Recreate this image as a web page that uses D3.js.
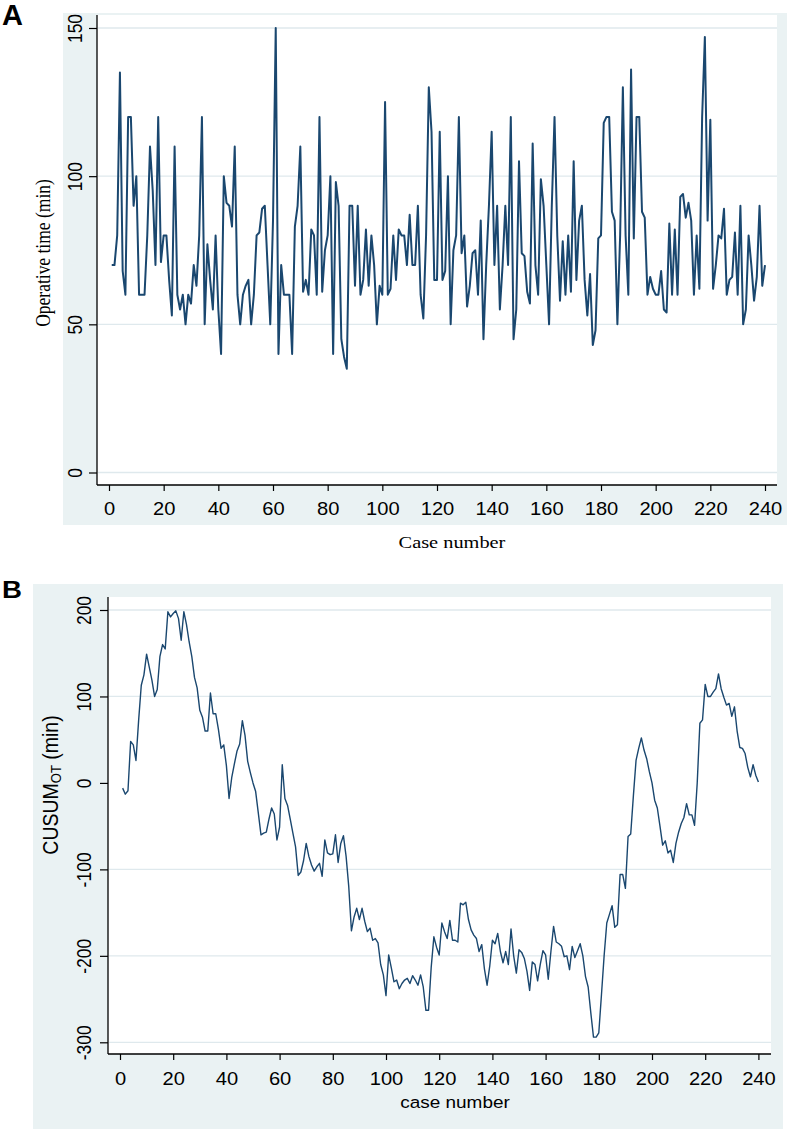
<!DOCTYPE html>
<html>
<head>
<meta charset="utf-8">
<script src="https://cdn.jsdelivr.net/npm/d3@7/dist/d3.min.js"></script>
<style>
  body { margin: 0; background: #ffffff; }
  svg { display: block; }
</style>
</head>
<body>
<div id="chart"></div>
<script>
// operative time per case (min), cases 1..240
var operative_time = [
  70, 70, 80, 135, 68, 60, 120, 120, 90, 100,
  60, 60, 60, 80, 110, 95, 70, 120, 71, 80,
  80, 65, 53, 110, 60, 55, 60, 50, 60, 57,
  70, 63, 80, 120, 50, 77, 65, 55, 80, 55,
  40, 100, 91, 90, 83, 110, 60, 50, 60, 63,
  65, 50, 60, 80, 81, 89, 90, 70, 50, 85,
  150, 40, 70, 60, 60, 60, 40, 83, 90, 110,
  61, 65, 60, 82, 80, 60, 120, 61, 75, 80,
  100, 40, 98, 90, 45, 39, 35, 90, 90, 63,
  90, 60, 65, 82, 63, 80, 70, 50, 63, 60,
  125, 60, 62, 80, 65, 82, 80, 80, 70, 87,
  70, 70, 90, 60, 52, 80, 130, 115, 65, 65,
  115, 65, 68, 100, 50, 75, 80, 120, 74, 80,
  56, 63, 74, 75, 60, 85, 45, 70, 90, 115,
  70, 90, 55, 70, 90, 70, 120, 45, 55, 105,
  74, 73, 61, 57, 111, 70, 60, 99, 90, 70,
  50, 90, 120, 80, 58, 78, 60, 80, 61, 105,
  65, 85, 90, 65, 53, 67, 43, 48, 79, 80,
  118, 120, 120, 88, 85, 50, 80, 130, 80, 60,
  136, 79, 120, 120, 88, 86, 60, 66, 62, 60,
  60, 68, 55, 54, 84, 60, 82, 60, 93, 94,
  86, 91, 85, 60, 80, 62, 120, 147, 85, 119,
  62, 70, 80, 79, 89, 60, 65, 66, 81, 60,
  90, 50, 55, 80, 70, 58, 66, 90, 63, 70
];

// CUSUM of operative time (min), cases 1..240
var cusum_ot = [
  -6, -13, -9, 48, 44, 26, 72, 113, 125, 149,
  134, 119, 100, 108, 146, 160, 155, 198, 192, 196,
  199, 190, 165, 198, 183, 163, 146, 122, 110, 84,
  76, 60, 60, 104, 80, 80, 62, 40, 44, 20,
  -18, 6, 22, 37, 45, 72, 55, 25, 12, 0,
  -10, -35, -60, -58, -57, -42, -29, -36, -66, -51,
  21, -18, -26, -42, -58, -74, -107, -103, -90, -70,
  -85, -95, -102, -97, -93, -108, -66, -81, -83, -82,
  -60, -92, -70, -61, -85, -120, -171, -155, -145, -158,
  -145, -160, -172, -168, -182, -180, -185, -210, -222, -246,
  -199, -214, -230, -228, -238, -232, -228, -226, -232, -223,
  -228, -234, -222, -236, -263, -263, -213, -178, -190, -199,
  -162, -172, -180, -159, -182, -182, -184, -139, -141, -138,
  -158, -170, -176, -180, -195, -187, -215, -234, -212, -182,
  -186, -174, -195, -208, -195, -210, -169, -200, -220, -193,
  -196, -203, -218, -240, -207, -210, -229, -210, -194, -199,
  -227, -195, -166, -184, -186, -189, -201, -200, -216, -189,
  -202, -194, -186, -200, -224, -236, -266, -294, -294, -289,
  -245, -200, -162, -152, -142, -167, -164, -106, -106, -122,
  -62, -59, -15, 26, 40, 52, 38, 28, 13, 0,
  -20, -29, -50, -72, -67, -81, -78, -92, -70, -57,
  -47, -40, -24, -37, -37, -49, 0, 69, 73, 114,
  100, 100, 105, 109, 126, 109, 99, 90, 92, 77,
  88, 60, 41, 40, 34, 18, 7, 21, 9, 1
];

var x_ticks = [0, 20, 40, 60, 80, 100, 120, 140, 160, 180, 200, 220, 240];
var a_y_ticks = [0, 50, 100, 150];
var b_y_ticks = [-300, -200, -100, 0, 100, 200];

var width = 787, height = 1129;
var bg_color = "#eaf2f3",
    grid_color = "#dfe9ed",
    line_color = "#1a476f",
    sans = "'Liberation Sans', Arial, sans-serif",
    serif = "'Liberation Serif', 'Times New Roman', serif",
    stretch = 1.15; // the source figure is a little wider than tall

var svg = d3.select("#chart").append("svg")
  .attr("width", width)
  .attr("height", height);

drawPanel({
  letter: "A", letter_size: 29, letter_y: 25,
  bg: {x0: 63, y0: 13, x1: 787, y1: 525},
  plot: {x0: 97, y0: 15, x1: 777, y1: 485},
  x_range: [109, 765], y_domain: [0, 150], y_range: [472.5, 28],
  y_ticks: a_y_ticks, values: operative_time,
  y_label_base: -15.5, x_label_base: 30,
  line_width: 2,
  x_title: "Case number", x_title_font: serif, x_title_size: 17.7,
  x_title_x: 452, x_title_y: 548,
  y_title_font: serif, y_title_size: 17.5, y_title_x: 50, y_title_y: 253,
  skip_zero_grid: false
});

drawPanel({
  letter: "B", letter_size: 24, letter_y: 598,
  bg: {x0: 33, y0: 584, x1: 783, y1: 1129},
  plot: {x0: 108, y0: 597, x1: 771, y1: 1054},
  x_range: [120, 758.4], y_domain: [-300, 200], y_range: [1042.3, 610],
  y_ticks: b_y_ticks, values: cusum_ot,
  y_label_base: -17.3, x_label_base: 31,
  line_width: 1.4,
  x_title: "case number", x_title_font: sans, x_title_size: 16.5,
  x_title_x: 455, x_title_y: 1108,
  y_title_font: sans, y_title_size: 19.5, y_title_x: 58, y_title_y: 785,
  cusum_title: true,
  skip_zero_grid: true
});

function drawPanel(o) {
  var g = svg.append("g");

  // graph region and plot region
  g.append("rect")
    .attr("x", o.bg.x0).attr("y", o.bg.y0)
    .attr("width", o.bg.x1 - o.bg.x0).attr("height", o.bg.y1 - o.bg.y0)
    .attr("fill", bg_color);
  g.append("rect")
    .attr("x", o.plot.x0).attr("y", o.plot.y0)
    .attr("width", o.plot.x1 - o.plot.x0).attr("height", o.plot.y1 - o.plot.y0)
    .attr("fill", "#ffffff");

  var x = d3.scaleLinear().domain([0, 240]).range(o.x_range);
  var y = d3.scaleLinear().domain(o.y_domain).range(o.y_range);

  // horizontal grid
  g.append("g").selectAll("line")
    .data(o.y_ticks.filter(function(t) { return !(o.skip_zero_grid && t === 0); }))
    .enter().append("line")
    .attr("x1", o.plot.x0 + 1).attr("x2", o.plot.x1)
    .attr("y1", function(d) { return y(d); })
    .attr("y2", function(d) { return y(d); })
    .attr("stroke", grid_color)
    .attr("stroke-width", 1.3);

  // the series
  var line = d3.line()
    .x(function(d, i) { return x(i + 1); })
    .y(function(d) { return y(d); });

  g.append("path")
    .datum(o.values)
    .attr("d", line)
    .attr("fill", "none")
    .attr("stroke", line_color)
    .attr("stroke-width", o.line_width)
    .attr("stroke-linejoin", "round");

  // plain hyphen for negatives, as in the original
  var fmt = function(d) { return String(d); };

  // y axis
  var ya = g.append("g")
    .attr("transform", "translate(" + o.plot.x0 + ",0)")
    .call(d3.axisLeft(y).tickValues(o.y_ticks).tickFormat(fmt)
      .tickSize(8).tickSizeOuter(0));
  ya.select(".domain").remove();
  ya.selectAll("line").attr("stroke", "#000").attr("stroke-width", 1.2);
  ya.selectAll("text")
    .attr("x", 0).attr("dy", 0)
    .attr("text-anchor", "middle")
    .attr("transform", "translate(" + o.y_label_base + ",0) scale(" + stretch + ",1) rotate(-90)")
    .attr("fill", "#000")
    .style("font-family", sans).style("font-size", "17.5px");

  // x axis
  var xa = g.append("g")
    .attr("transform", "translate(0," + o.plot.y1 + ")")
    .call(d3.axisBottom(x).tickValues(x_ticks).tickFormat(fmt)
      .tickSize(6).tickSizeOuter(0));
  xa.select(".domain").remove();
  xa.selectAll("line").attr("stroke", "#000").attr("stroke-width", 1.2);
  xa.selectAll("text")
    .attr("y", o.x_label_base).attr("dy", 0)
    .attr("transform", "scale(" + stretch + ",1)")
    .attr("fill", "#000")
    .style("font-family", sans).style("font-size", "17.5px");

  // axis lines
  g.append("line")
    .attr("x1", o.plot.x0).attr("x2", o.plot.x0)
    .attr("y1", o.plot.y0).attr("y2", o.plot.y1)
    .attr("stroke", "#000").attr("stroke-width", 1.3);
  g.append("line")
    .attr("x1", o.plot.x0).attr("x2", o.plot.x1)
    .attr("y1", o.plot.y1).attr("y2", o.plot.y1)
    .attr("stroke", "#000").attr("stroke-width", 1.3);

  // titles
  g.append("text")
    .attr("transform", "translate(" + o.x_title_x + "," + o.x_title_y + ") scale(" + stretch + ",1)")
    .attr("text-anchor", "middle")
    .style("font-family", o.x_title_font).style("font-size", o.x_title_size + "px")
    .text(o.x_title);

  var yt = g.append("text")
    .attr("transform", "translate(" + o.y_title_x + "," + o.y_title_y + ") scale(" + stretch + ",1) rotate(-90)")
    .attr("text-anchor", "middle")
    .style("font-family", o.y_title_font).style("font-size", o.y_title_size + "px");
  if (o.cusum_title) {
    yt.append("tspan").text("CUSUM");
    yt.append("tspan").attr("dy", 3).style("font-size", "13px").text("OT");
    yt.append("tspan").attr("dy", -3).text(" (min)");
  } else {
    yt.text("Operative time (min)");
  }

  // panel letter
  svg.append("text")
    .attr("transform", "translate(2," + o.letter_y + ") scale(" + (o.letter === "B" ? stretch : 1) + ",1)")
    .style("font-family", sans).style("font-weight", "bold")
    .style("font-size", o.letter_size + "px")
    .text(o.letter);
}
</script>
</body>
</html>
